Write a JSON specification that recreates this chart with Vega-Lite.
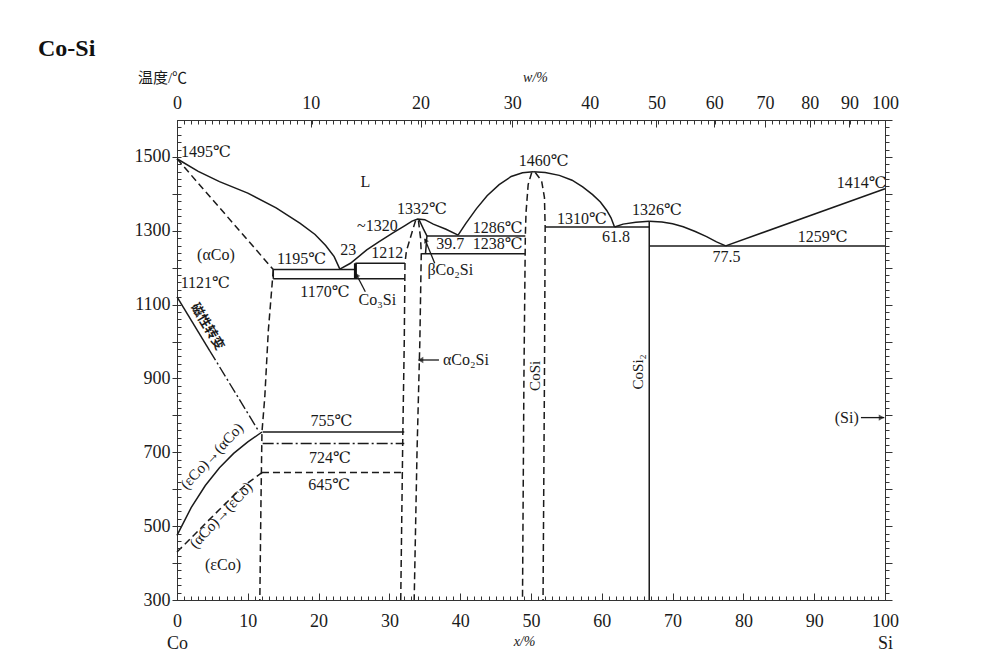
{
  "$schema": "https://vega.github.io/schema/vega-lite/v6.json",
  "width": 708,
  "height": 480,
  "autosize": {"type": "none"},
  "padding": {"left": 177, "top": 120, "right": 115, "bottom": 65},
  "background": "white",
  "title": {"text": "Co-Si", "anchor": "start", "frame": "group", "dx": -139, "dy": -5, "font": "Liberation Serif", "fontSize": 24, "fontWeight": "bold", "color": "#111"},
  "datasets": {
    "solid": [
      {"c": "liqCo", "x": 0, "T": 1495}, {"c": "liqCo", "x": 3, "T": 1461}, {"c": "liqCo", "x": 6, "T": 1433}, {"c": "liqCo", "x": 10, "T": 1402}, {"c": "liqCo", "x": 14, "T": 1362}, {"c": "liqCo", "x": 17.4, "T": 1320}, {"c": "liqCo", "x": 19.5, "T": 1290}, {"c": "liqCo", "x": 21, "T": 1260}, {"c": "liqCo", "x": 22.2, "T": 1230}, {"c": "liqCo", "x": 23, "T": 1196},
      {"c": "liqC2", "x": 23, "T": 1196}, {"c": "liqC2", "x": 24.5, "T": 1212}, {"c": "liqC2", "x": 26.8, "T": 1248}, {"c": "liqC2", "x": 28.5, "T": 1270}, {"c": "liqC2", "x": 30.5, "T": 1294}, {"c": "liqC2", "x": 32.2, "T": 1314}, {"c": "liqC2", "x": 33.2, "T": 1326}, {"c": "liqC2", "x": 34, "T": 1332}, {"c": "liqC2", "x": 35, "T": 1330}, {"c": "liqC2", "x": 36.2, "T": 1318}, {"c": "liqC2", "x": 38, "T": 1304}, {"c": "liqC2", "x": 39.7, "T": 1288},
      {"c": "liqCsL", "x": 39.7, "T": 1288}, {"c": "liqCsL", "x": 40.8, "T": 1320}, {"c": "liqCsL", "x": 42.3, "T": 1360}, {"c": "liqCsL", "x": 43.8, "T": 1395}, {"c": "liqCsL", "x": 45.5, "T": 1425}, {"c": "liqCsL", "x": 47.2, "T": 1447}, {"c": "liqCsL", "x": 48.8, "T": 1457}, {"c": "liqCsL", "x": 50.3, "T": 1460},
      {"c": "liqCsR", "x": 50.3, "T": 1460}, {"c": "liqCsR", "x": 52, "T": 1458}, {"c": "liqCsR", "x": 54, "T": 1450}, {"c": "liqCsR", "x": 55.8, "T": 1437}, {"c": "liqCsR", "x": 57.3, "T": 1419}, {"c": "liqCsR", "x": 58.7, "T": 1398}, {"c": "liqCsR", "x": 59.8, "T": 1378}, {"c": "liqCsR", "x": 60.7, "T": 1355}, {"c": "liqCsR", "x": 61.3, "T": 1335}, {"c": "liqCsR", "x": 61.8, "T": 1310},
      {"c": "liqS2L", "x": 61.8, "T": 1310}, {"c": "liqS2L", "x": 63, "T": 1318}, {"c": "liqS2L", "x": 64.8, "T": 1323}, {"c": "liqS2L", "x": 66.7, "T": 1326},
      {"c": "liqS2R", "x": 66.7, "T": 1326}, {"c": "liqS2R", "x": 68.5, "T": 1324}, {"c": "liqS2R", "x": 70, "T": 1319}, {"c": "liqS2R", "x": 71.5, "T": 1311}, {"c": "liqS2R", "x": 73.2, "T": 1298}, {"c": "liqS2R", "x": 74.8, "T": 1284}, {"c": "liqS2R", "x": 76.2, "T": 1270}, {"c": "liqS2R", "x": 77.5, "T": 1259},
      {"c": "liqSi", "x": 77.5, "T": 1259}, {"c": "liqSi", "x": 100, "T": 1414},
      {"c": "CoSi2", "x": 66.7, "T": 1326}, {"c": "CoSi2", "x": 66.7, "T": 300},
      {"c": "h1195", "x": 13.6, "T": 1195}, {"c": "h1195", "x": 25.2, "T": 1195},
      {"c": "h1170", "x": 13.6, "T": 1170}, {"c": "h1170", "x": 32.2, "T": 1170},
      {"c": "h1212", "x": 25.2, "T": 1212}, {"c": "h1212", "x": 32.2, "T": 1212},
      {"c": "br", "x": 13.6, "T": 1195}, {"c": "br", "x": 13.6, "T": 1170},
      {"c": "h1286", "x": 35.3, "T": 1286}, {"c": "h1286", "x": 49.2, "T": 1286},
      {"c": "h1238", "x": 34.5, "T": 1238}, {"c": "h1238", "x": 49.2, "T": 1238},
      {"c": "beta", "x": 34.2, "T": 1330}, {"c": "beta", "x": 34.8, "T": 1305}, {"c": "beta", "x": 35.3, "T": 1286}, {"c": "beta", "x": 35.1, "T": 1238},
      {"c": "h1310", "x": 52, "T": 1310}, {"c": "h1310", "x": 66.7, "T": 1310},
      {"c": "h1259", "x": 66.7, "T": 1259}, {"c": "h1259", "x": 100, "T": 1259},
      {"c": "h755", "x": 12.1, "T": 755}, {"c": "h755", "x": 32.1, "T": 755},
      {"c": "ea", "x": 0, "T": 475}, {"c": "ea", "x": 2, "T": 550}, {"c": "ea", "x": 4, "T": 610}, {"c": "ea", "x": 6, "T": 658}, {"c": "ea", "x": 8, "T": 697}, {"c": "ea", "x": 10, "T": 728}, {"c": "ea", "x": 12, "T": 755},
      {"c": "magTop", "x": 0, "T": 1121}, {"c": "magTop", "x": 4.63, "T": 975}
    ],
    "dashed": [
      {"c": "sol", "x": 0, "T": 1495}, {"c": "sol", "x": 13.6, "T": 1195},
      {"c": "solv", "x": 13.6, "T": 1195}, {"c": "solv", "x": 13.2, "T": 1100}, {"c": "solv", "x": 12.9, "T": 1030}, {"c": "solv", "x": 12.4, "T": 850}, {"c": "solv", "x": 12, "T": 755}, {"c": "solv", "x": 11.85, "T": 550}, {"c": "solv", "x": 11.7, "T": 300},
      {"c": "ae", "x": 0, "T": 430}, {"c": "ae", "x": 2, "T": 468}, {"c": "ae", "x": 4, "T": 507}, {"c": "ae", "x": 6, "T": 545}, {"c": "ae", "x": 8, "T": 583}, {"c": "ae", "x": 10, "T": 617}, {"c": "ae", "x": 12, "T": 645},
      {"c": "h645", "x": 12, "T": 645}, {"c": "h645", "x": 32.1, "T": 645},
      {"c": "c2L", "x": 33.7, "T": 1328}, {"c": "c2L", "x": 33.1, "T": 1290}, {"c": "c2L", "x": 32.4, "T": 1245}, {"c": "c2L", "x": 32.2, "T": 1212}, {"c": "c2L", "x": 32.1, "T": 1000}, {"c": "c2L", "x": 31.9, "T": 755}, {"c": "c2L", "x": 31.6, "T": 300},
      {"c": "c2R", "x": 34.1, "T": 1328}, {"c": "c2R", "x": 34.4, "T": 1280}, {"c": "c2R", "x": 34.5, "T": 1238}, {"c": "c2R", "x": 34.3, "T": 1000}, {"c": "c2R", "x": 33.9, "T": 700}, {"c": "c2R", "x": 33.5, "T": 300},
      {"c": "csL", "x": 50.1, "T": 1458}, {"c": "csL", "x": 49.6, "T": 1425}, {"c": "csL", "x": 49.3, "T": 1350}, {"c": "csL", "x": 49.2, "T": 1286}, {"c": "csL", "x": 49, "T": 900}, {"c": "csL", "x": 48.8, "T": 300},
      {"c": "csR", "x": 50.6, "T": 1458}, {"c": "csR", "x": 51.5, "T": 1435}, {"c": "csR", "x": 51.9, "T": 1390}, {"c": "csR", "x": 52, "T": 1310}, {"c": "csR", "x": 51.9, "T": 900}, {"c": "csR", "x": 51.7, "T": 300}
    ],
    "dashdot": [
      {"c": "mag", "x": 4.63, "T": 975}, {"c": "mag", "x": 11.6, "T": 755},
      {"c": "h724", "x": 12.1, "T": 724}, {"c": "h724", "x": 32.1, "T": 724}
    ],
    "thin": [
      {"c": "pCo3Si", "x": 26.6, "T": 1135}, {"c": "pCo3Si", "x": 25.3, "T": 1183},
      {"c": "pBeta", "x": 36.4, "T": 1212}, {"c": "pBeta", "x": 35.0, "T": 1278},
      {"c": "pAlpha", "x": 37.0, "T": 950}, {"c": "pAlpha", "x": 34.1, "T": 950},
      {"c": "pSi", "x": 96.6, "T": 794}, {"c": "pSi", "x": 99.9, "T": 794}
    ],
    "thick": [
      {"c": "Co3Si", "x": 25.2, "T": 1212}, {"c": "Co3Si", "x": 25.2, "T": 1170}
    ],
    "labels": [
      {"t": "1495℃", "x": 4.1, "T": 1512},
      {"t": "L", "x": 26.6, "T": 1433},
      {"t": "(αCo)", "x": 5.5, "T": 1234},
      {"t": "1121℃", "x": 4.0, "T": 1158},
      {"t": "1195℃", "x": 17.6, "T": 1223},
      {"t": "23", "x": 24.2, "T": 1248},
      {"t": "1170℃", "x": 20.9, "T": 1135},
      {"t": "Co₃Si", "x": 28.3, "T": 1113},
      {"t": "~1320", "x": 28.3, "T": 1314},
      {"t": "1332℃", "x": 34.6, "T": 1358},
      {"t": "1212", "x": 29.7, "T": 1239},
      {"t": "1286℃", "x": 45.3, "T": 1307},
      {"t": "39.7", "x": 38.6, "T": 1264},
      {"t": "1238℃", "x": 45.3, "T": 1264},
      {"t": "βCo₂Si", "x": 38.6, "T": 1194},
      {"t": "1460℃", "x": 51.8, "T": 1490},
      {"t": "1310℃", "x": 57.2, "T": 1331},
      {"t": "61.8", "x": 62.0, "T": 1284},
      {"t": "1326℃", "x": 67.8, "T": 1356},
      {"t": "77.5", "x": 77.6, "T": 1230},
      {"t": "1259℃", "x": 91.2, "T": 1284},
      {"t": "1414℃", "x": 96.7, "T": 1430},
      {"t": "αCo₂Si", "x": 40.8, "T": 950},
      {"t": "(Si)", "x": 94.6, "T": 794},
      {"t": "755℃", "x": 21.8, "T": 786},
      {"t": "724℃", "x": 21.6, "T": 684},
      {"t": "645℃", "x": 21.5, "T": 611},
      {"t": "(εCo)", "x": 6.5, "T": 395}
    ],
    "vlabels": [
      {"t": "CoSi", "x": 50.6, "T": 907},
      {"t": "CoSi₂", "x": 65.1, "T": 918}
    ],
    "maglabel": [
      {"t": "磁性转变", "x": 4.3, "T": 1040}
    ],
    "trlabels": [
      {"t": "(εCo)→(αCo)", "x": 4.9, "T": 690},
      {"t": "(αCo)→(εCo)", "x": 6.2, "T": 530}
    ],
    "headsL": [{"x": 34.4, "T": 950}],
    "headsR": [{"x": 99.5, "T": 794}],
    "headsUp": [{"x": 25.4, "T": 1180}, {"x": 35.1, "T": 1274}]
  },
  "layer": [
    {
      "data": {"name": "solid"},
      "mark": {"type": "line", "color": "#1a1a1a", "strokeWidth": 1.5},
      "encoding": {
        "x": {"field": "x", "type": "quantitative", "scale": {"domain": [0, 100], "nice": false, "zero": false},
          "axis": {"orient": "bottom", "zindex": 2, "values": [0, 10, 20, 30, 40, 50, 60, 70, 80, 90, 100], "tickSize": -7, "labelPadding": 19, "labelFontSize": 18, "labelLineHeight": 22, "labelFlush": false,
            "labelExpr": "datum.value == 0 ? ['0', 'Co'] : datum.value == 100 ? ['100', 'Si'] : datum.label",
            "title": "x/%", "titleFontStyle": "italic", "titleFontSize": 14, "titleX": 347, "titleY": 41, "titleBaseline": "middle", "titleAlign": "center"}},
        "y": {"field": "T", "type": "quantitative", "scale": {"domain": [300, 1600], "nice": false, "zero": false},
          "axis": {"orient": "left", "zindex": 2, "values": [300, 400, 500, 600, 700, 800, 900, 1000, 1100, 1200, 1300, 1400, 1500], "format": "d", "tickSize": 5, "labelPadding": 2, "labelFontSize": 18, "labelFlush": false,
            "labelExpr": "datum.value % 200 == 100 ? datum.label : ''",
            "title": "温度/℃", "titleAngle": 0, "titleX": -15, "titleY": -43, "titleAlign": "center", "titleBaseline": "middle", "titleFontSize": 15}},
        "detail": {"field": "c"},
        "order": {"value": null}
      }
    },
    {
      "data": {"name": "dashed"},
      "mark": {"type": "line", "color": "#1a1a1a", "strokeWidth": 1.5, "strokeDash": [7, 4]},
      "encoding": {
        "x": {"field": "x", "type": "quantitative", "scale": {"domain": [0, 100], "nice": false, "zero": false},
          "axis": {"orient": "bottom", "zindex": 2, "values": [0,1,2,3,4,5,6,7,8,9,10,11,12,13,14,15,16,17,18,19,20,21,22,23,24,25,26,27,28,29,30,31,32,33,34,35,36,37,38,39,40,41,42,43,44,45,46,47,48,49,50,51,52,53,54,55,56,57,58,59,60,61,62,63,64,65,66,67,68,69,70,71,72,73,74,75,76,77,78,79,80,81,82,83,84,85,86,87,88,89,90,91,92,93,94,95,96,97,98,99,100], "tickSize": -4, "labels": false, "title": null}},
        "y": {"field": "T", "type": "quantitative", "scale": {"domain": [300, 1600], "nice": false, "zero": false},
          "axis": {"orient": "left", "zindex": 2, "values": [300,320,340,360,380,400,420,440,460,480,500,520,540,560,580,600,620,640,660,680,700,720,740,760,780,800,820,840,860,880,900,920,940,960,980,1000,1020,1040,1060,1080,1100,1120,1140,1160,1180,1200,1220,1240,1260,1280,1300,1320,1340,1360,1380,1400,1420,1440,1460,1480,1500,1520,1540,1560,1580,1600], "tickSize": -4, "labels": false, "title": null}},
        "detail": {"field": "c"},
        "order": {"value": null}
      }
    },
    {
      "data": {"name": "dashdot"},
      "mark": {"type": "line", "color": "#1a1a1a", "strokeWidth": 1.4, "strokeDash": [11, 3, 2, 3]},
      "encoding": {
        "x": {"field": "x", "type": "quantitative", "scale": {"domain": [0, 100], "nice": false, "zero": false},
          "axis": {"orient": "top", "zindex": 2, "values": [0, 18.907, 34.408, 47.349, 58.313, 67.725, 75.889, 83.04, 89.354, 94.971, 100], "tickSize": -7, "labelPadding": 15, "labelFontSize": 18, "labelFlush": false,
            "labelExpr": "round(100 * datum.value * 28.086 / (datum.value * 28.086 + (100 - datum.value) * 58.933))",
            "title": "w/%", "titleFontStyle": "italic", "titleFontSize": 14, "titleX": 358, "titleY": -43, "titleBaseline": "middle", "titleAlign": "center"}},
        "y": {"field": "T", "type": "quantitative", "scale": {"domain": [300, 1600], "nice": false, "zero": false},
          "axis": {"orient": "right", "zindex": 2, "values": [300,320,340,360,380,400,420,440,460,480,500,520,540,560,580,600,620,640,660,680,700,720,740,760,780,800,820,840,860,880,900,920,940,960,980,1000,1020,1040,1060,1080,1100,1120,1140,1160,1180,1200,1220,1240,1260,1280,1300,1320,1340,1360,1380,1400,1420,1440,1460,1480,1500,1520,1540,1560,1580,1600], "tickSize": 4, "labels": false, "title": null}},
        "detail": {"field": "c"},
        "order": {"value": null}
      }
    },
    {
      "data": {"name": "thick"},
      "mark": {"type": "line", "color": "#111", "strokeWidth": 3},
      "encoding": {
        "x": {"field": "x", "type": "quantitative", "scale": {"domain": [0, 100], "nice": false, "zero": false},
          "axis": {"orient": "top", "zindex": 2, "values": [0,1,2,3,4,5,6,7,8,9,10,11,12,13,14,15,16,17,18,19,20,21,22,23,24,25,26,27,28,29,30,31,32,33,34,35,36,37,38,39,40,41,42,43,44,45,46,47,48,49,50,51,52,53,54,55,56,57,58,59,60,61,62,63,64,65,66,67,68,69,70,71,72,73,74,75,76,77,78,79,80,81,82,83,84,85,86,87,88,89,90,91,92,93,94,95,96,97,98,99,100], "tickSize": -4, "labels": false, "title": null}},
        "y": {"field": "T", "type": "quantitative", "scale": {"domain": [300, 1600], "nice": false, "zero": false},
          "axis": {"orient": "right", "zindex": 2, "values": [300, 400, 500, 600, 700, 800, 900, 1000, 1100, 1200, 1300, 1400, 1500, 1600], "tickSize": 7, "labels": false, "title": null}},
        "detail": {"field": "c"},
        "order": {"value": null}
      }
    },
    {
      "data": {"name": "thin"},
      "mark": {"type": "line", "color": "#1a1a1a", "strokeWidth": 1.3},
      "encoding": {
        "x": {"field": "x", "type": "quantitative", "axis": null},
        "y": {"field": "T", "type": "quantitative", "axis": null},
        "detail": {"field": "c"},
        "order": {"value": null}
      }
    },
    {
      "data": {"name": "headsL"},
      "mark": {"type": "point", "shape": "triangle-left", "filled": true, "color": "#111", "size": 40},
      "encoding": {"x": {"field": "x", "type": "quantitative", "axis": null}, "y": {"field": "T", "type": "quantitative", "axis": null}}
    },
    {
      "data": {"name": "headsR"},
      "mark": {"type": "point", "shape": "triangle-right", "filled": true, "color": "#111", "size": 40},
      "encoding": {"x": {"field": "x", "type": "quantitative", "axis": null}, "y": {"field": "T", "type": "quantitative", "axis": null}}
    },
    {
      "data": {"name": "headsUp"},
      "mark": {"type": "point", "shape": "triangle-up", "filled": true, "color": "#111", "size": 30, "angle": -25},
      "encoding": {"x": {"field": "x", "type": "quantitative", "axis": null}, "y": {"field": "T", "type": "quantitative", "axis": null}}
    },
    {
      "data": {"name": "labels"},
      "mark": {"type": "text", "font": "Liberation Serif, DejaVu Serif", "fontSize": 16, "color": "#1a1a1a", "align": "center", "baseline": "middle"},
      "encoding": {"x": {"field": "x", "type": "quantitative", "axis": null}, "y": {"field": "T", "type": "quantitative", "axis": null}, "text": {"field": "t"}}
    },
    {
      "data": {"name": "vlabels"},
      "mark": {"type": "text", "font": "Liberation Serif, DejaVu Serif", "fontSize": 15, "color": "#1a1a1a", "align": "center", "baseline": "middle", "angle": 270},
      "encoding": {"x": {"field": "x", "type": "quantitative", "axis": null}, "y": {"field": "T", "type": "quantitative", "axis": null}, "text": {"field": "t"}}
    },
    {
      "data": {"name": "maglabel"},
      "mark": {"type": "text", "font": "Noto Sans CJK SC", "fontSize": 13, "fontWeight": "bold", "color": "#1a1a1a", "align": "center", "baseline": "middle", "angle": 59},
      "encoding": {"x": {"field": "x", "type": "quantitative", "axis": null}, "y": {"field": "T", "type": "quantitative", "axis": null}, "text": {"field": "t"}}
    },
    {
      "data": {"name": "trlabels"},
      "mark": {"type": "text", "font": "Liberation Serif, DejaVu Serif", "fontSize": 15, "color": "#1a1a1a", "align": "center", "baseline": "middle", "angle": 313},
      "encoding": {"x": {"field": "x", "type": "quantitative", "axis": null}, "y": {"field": "T", "type": "quantitative", "axis": null}, "text": {"field": "t"}}
    }
  ],
  "resolve": {"axis": {"x": "independent", "y": "independent"}},
  "config": {
    "view": {"stroke": "#333", "strokeWidth": 1},
    "axis": {"grid": false, "domain": false, "tickColor": "#333", "tickWidth": 1, "labelColor": "#1a1a1a", "titleColor": "#1a1a1a", "labelFont": "Liberation Serif", "titleFont": "Liberation Serif, Noto Sans CJK SC", "titleFontWeight": "normal"}
  }
}
